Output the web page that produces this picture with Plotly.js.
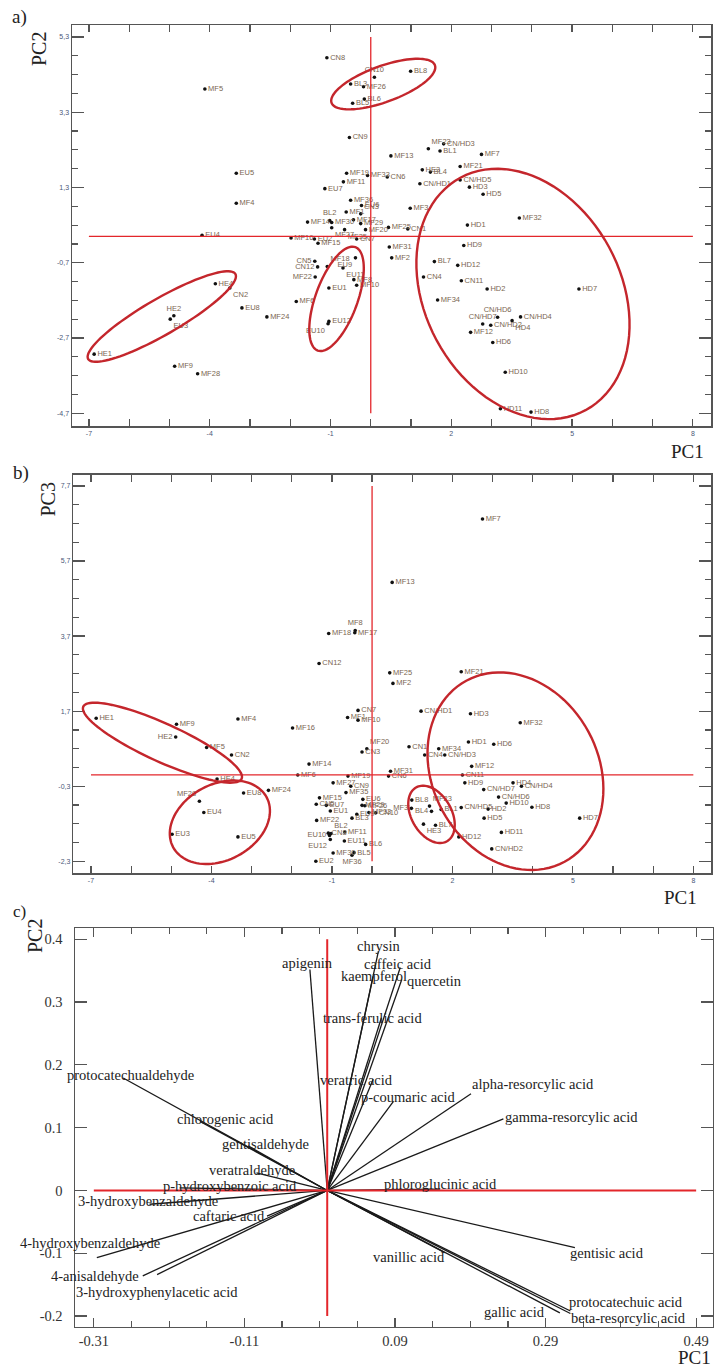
<!DOCTYPE html>
<html>
<head>
<meta charset="utf-8">
<script src="https://cdn.plot.ly/plotly-3.0.1.min.js"></script>
<style>
  html, body { margin: 0; padding: 0; background: #fff; }
  #chart { width: 714px; height: 1368px; }
</style>
</head>
<body>
<div id="chart"></div>
<script>
// ---- Sample scores (PCA) ----
const samples = [
  "CN1","CN2","CN3","CN4","CN5","CN6","CN7","CN8","CN9","CN10","CN11","CN12",
  "CN/HD1","CN/HD2","CN/HD3","CN/HD4","CN/HD5","CN/HD6","CN/HD7",
  "HD1","HD2","HD3","HD4","HD5","HD6","HD7","HD8","HD9","HD10","HD11","HD12",
  "HE1","HE2","HE3","HE4",
  "EU1","EU2","EU3","EU4","EU5","EU6","EU7","EU8","EU9","EU10","EU11","EU12",
  "BL1","BL2","BL3","BL4","BL5","BL6","BL7","BL8",
  "MF1","MF2","MF3","MF4","MF5","MF6","MF7","MF8","MF9","MF10","MF11","MF12",
  "MF13","MF14","MF15","MF16","MF17","MF18","MF19","MF20","MF21","MF22","MF23","MF24",
  "MF25","MF26","MF27","MF28","MF29","MF30","MF31","MF32","MF33","MF34","MF35","MF36"
];
const pc1 = [
  0.92,-3.50,-0.25,1.31,-1.39,0.41,-0.35,-1.09,-0.53,0.09,2.25,-1.32,
  1.22,2.98,1.81,3.72,2.22,3.15,2.78,
  2.40,2.89,2.45,3.51,2.79,3.03,5.17,3.98,2.31,3.34,3.22,2.16,
  -6.87,-4.89,1.28,-3.86,
  -1.04,-1.40,-4.98,-4.19,-3.34,-0.23,-1.14,-3.20,-0.38,-1.06,-0.69,-1.04,
  1.72,-1.02,-0.50,1.48,-0.45,-0.16,1.58,0.99,
  -0.61,0.52,0.98,-3.34,-4.12,-1.85,2.75,-0.42,-4.87,-0.35,-0.68,2.48,
  0.50,-1.57,-1.31,-1.98,-0.43,-1.08,-0.60,-0.13,2.22,-1.38,1.43,-2.58,
  0.44,-0.18,-0.97,-4.30,-0.25,-0.97,0.46,3.69,-0.08,1.66,-0.65,-0.50
];
const pc2 = [
  0.20,-1.37,0.60,-1.08,-0.66,1.58,-0.07,4.75,2.63,4.23,-1.18,-0.81,
  1.40,-2.36,2.46,-2.14,1.50,-2.15,-2.33,
  0.30,-1.40,1.31,-2.24,1.12,-2.82,-1.40,-4.67,-0.24,-3.61,-4.58,-0.77,
  -3.13,-2.11,1.77,-1.26,
  -1.37,-0.07,-2.20,0.03,1.68,0.82,1.27,-1.90,-0.57,-2.32,-0.84,-2.26,
  2.27,0.42,4.05,1.71,3.54,3.65,-0.67,4.39,
  0.65,-0.57,0.75,0.88,3.92,-1.73,2.18,-1.15,-3.45,-1.30,1.45,-2.55,
  2.14,0.38,-0.18,-0.04,0.44,-0.80,1.68,0.18,1.86,-1.08,2.33,-2.14,
  0.24,3.98,0.23,-3.65,0.34,0.37,-0.28,0.49,1.62,-1.69,0.18,0.96
];
const pc3 = [
  0.75,0.53,0.61,0.53,-0.78,-0.03,1.72,-1.55,-0.30,-1.01,0.00,2.97,
  1.70,-1.97,0.53,-0.30,-0.87,-0.59,-0.39,
  0.88,-0.91,1.63,-0.21,-1.15,0.82,-1.15,-0.86,-0.21,-0.75,-1.53,-1.65,
  1.51,1.01,-1.31,-0.11,
  -0.96,-2.30,-1.58,-1.00,-1.65,-0.65,-0.81,-0.48,-1.05,-1.61,-1.76,-1.72,
  -0.92,-1.56,-1.15,-0.97,-2.07,-1.85,-1.34,-0.67,
  1.53,2.44,-0.89,1.49,0.73,0.00,6.82,3.85,1.35,1.46,-1.52,0.23,
  5.13,0.29,-0.61,1.25,3.79,3.77,-0.03,0.70,2.75,-1.21,-0.83,-0.41,
  2.72,-0.82,-0.21,-0.70,-0.81,-2.08,0.10,1.39,-1.00,0.70,-0.47,-2.14
];

// ---- Variable loadings (PC1 / PC2) ----
const compounds = [
  "apigenin","chrysin","caffeic acid","kaempferol","quercetin","trans-ferulic acid",
  "veratric acid","p-coumaric acid","alpha-resorcylic acid","gamma-resorcylic acid",
  "phloroglucinic acid","gentisic acid","vanillic acid","gallic acid",
  "protocatechuic acid","beta-resorcylic acid","protocatechualdehyde","chlorogenic acid",
  "gentisaldehyde","veratraldehyde","p-hydroxybenzoic acid","3-hydroxybenzaldehyde",
  "caftaric acid","4-hydroxybenzaldehyde","4-anisaldehyde","3-hydroxyphenylacetic acid"
];
const loadPC1 = [
  -0.023,0.068,0.097,0.061,0.099,0.072,
  0.061,0.088,0.191,0.234,
  0.150,0.329,0.156,0.309,
  0.323,0.323,-0.271,-0.169,
  -0.105,-0.094,-0.196,-0.236,
  -0.080,-0.306,-0.245,-0.226
];
const loadPC2 = [
  0.352,0.381,0.355,0.341,0.336,0.275,
  0.177,0.142,0.154,0.114,
  0.002,-0.091,-0.099,-0.195,
  -0.192,-0.196,0.179,0.110,
  0.071,0.028,0.004,-0.022,
  -0.041,-0.107,-0.136,-0.134
];

// ---- Page geometry (pixels) ----
const W = 714, H = 1368;
const fx = p => p / W;
const fy = p => 1 - p / H;

const panels = {
  a: { x0: 72, x1: 711, y0: 25, y1: 426, xr: [-7.42, 8.45], yr: [-5.04, 5.62] },
  b: { x0: 73.3, x1: 711, y0: 474.7, y1: 873.3, xr: [-7.44, 8.44], yr: [-2.62, 8.0] },
  c: { x0: 75, x1: 712.7, y0: 928.3, y1: 1326.7, xr: [-0.335, 0.512], yr: [-0.217, 0.4175] }
};

// Label placement for crowded score labels
const posA = {
  "HE2":"top center","BL2":"top center","CN5":"middle left","CN12":"middle left",
  "MF22":"middle left","MF18":"top right","EU9":"bottom left","EU10":"bottom left",
  "EU11":"bottom right","CN/HD6":"top center","CN/HD7":"top center","HD4":"bottom right",
  "MF23":"top right","CN10":"top center","EU3":"bottom right","MF27":"bottom right",
  "MF35":"bottom right","CN2":"bottom right","CN3":"top right"
};
const posB = {
  "HE2":"middle left","MF28":"top left","MF8":"top center","MF20":"top right",
  "MF3":"middle left","BL4":"middle left","MF23":"top right","HE3":"bottom right",
  "EU10":"middle left","EU12":"bottom left","MF36":"bottom center","BL2":"top right"
};

// Group rings: centre in data units, semi-axes in px, rotation in screen degrees
const ringsA = [
  { cx: 0.31, cy: 4.05, a: 55, b: 18, rot: -20 },
  { cx: -5.19, cy: -2.13, a: 85, b: 18, rot: -30 },
  { cx: -0.85, cy: -1.66, a: 55, b: 21, rot: -70 },
  { cx: 3.78, cy: -1.53, a: 132, b: 98, rot: 61.7 }
];
const ringsB = [
  { cx: -5.22, cy: 0.86, a: 87, b: 19, rot: 24.5 },
  { cx: -3.79, cy: -1.26, a: 53, b: 38, rot: -28 },
  { cx: 3.57, cy: 0.10, a: 103, b: 83, rot: 61.5 },
  { cx: 1.48, cy: -1.05, a: 31, b: 20, rot: 60 }
];

// Loading label anchors: [xanchor, xshift, yshift]
const loadLabel = {
  "apigenin":["center",-2,6],"chrysin":["center",0,5],"caffeic acid":["center",-2,4],
  "kaempferol":["center",1,0],"quercetin":["left",3,-2],"trans-ferulic acid":["center",-9,0],
  "veratric acid":["center",-17,-1],"p-coumaric acid":["center",15,4],
  "alpha-resorcylic acid":["left",-1,10],"gamma-resorcylic acid":["left",0,2],
  "phloroglucinic acid":["center",0,5],"gentisic acid":["left",-7,-5],
  "vanillic acid":["right",2,-4],"gallic acid":["right",-13,1],
  "protocatechuic acid":["left",-3,9],"beta-resorcylic acid":["left",-1,-4],
  "protocatechualdehyde":["center",7,3],"chlorogenic acid":["center",26,2],
  "gentisaldehyde":["center",17,2],"veratraldehyde":["center",-4,3],
  "p-hydroxybenzoic acid":["center",50,2],"3-hydroxybenzaldehyde":["center",-2,3],
  "caftaric acid":["right",0,0],"4-hydroxybenzaldehyde":["center",-7,15],
  "4-anisaldehyde":["right",-2,0],"3-hydroxyphenylacetic acid":["center",0,-17]
};

const FRAME = '#555';
const RED_AXIS = '#e3262b';
const RING = '#c4262c';
const LABEL = '#7a6651';
const SMALLTICK = { family: 'Liberation Sans, Arial, sans-serif', size: 7, color: '#4a5878' };
const SERIF = 'Liberation Serif, Times New Roman, serif';

function ringPath(r, p) {
  const sx = (p.x1 - p.x0) / (p.xr[1] - p.xr[0]);
  const sy = (p.y1 - p.y0) / (p.yr[1] - p.yr[0]);
  const th = r.rot * Math.PI / 180;
  const pts = [];
  for (let k = 0; k <= 96; k++) {
    const t = 2 * Math.PI * k / 96;
    const dx = r.a * Math.cos(t) * Math.cos(th) - r.b * Math.sin(t) * Math.sin(th);
    const dy = r.a * Math.cos(t) * Math.sin(th) + r.b * Math.sin(t) * Math.cos(th);
    pts.push((r.cx + dx / sx).toFixed(4) + ',' + (r.cy - dy / sy).toFixed(4));
  }
  return 'M' + pts.join(' L') + ' Z';
}

function frame(p, isX, extra) {
  const base = {
    domain: isX ? [fx(p.x0), fx(p.x1)] : [fy(p.y1), fy(p.y0)],
    range: isX ? p.xr : p.yr,
    showline: true, linecolor: FRAME, linewidth: 1.5, mirror: 'allticks',
    ticks: 'inside', tickcolor: FRAME, tickwidth: 1.2,
    zeroline: false, showgrid: false, fixedrange: true,
    tickmode: 'array'
  };
  return Object.assign(base, extra);
}

const comma = v => String(v).replace('.', ',');

const xTicksAB = [-7, -4, -1, 2, 5, 8];
const yTicksA = [-4.7, -2.7, -0.7, 1.3, 3.3, 5.3];
const yTicksB = [-2.3, -0.3, 1.7, 3.7, 5.7, 7.7];
const xTicksC = [-0.31, -0.11, 0.09, 0.29, 0.49];
const yTicksC = [-0.2, -0.1, 0, 0.1, 0.2, 0.3, 0.4];

const layout = {
  width: W, height: H,
  margin: { l: 0, r: 0, t: 0, b: 0 },
  paper_bgcolor: '#fff', plot_bgcolor: '#fff',
  showlegend: false,
  xaxis: frame(panels.a, true, {
    anchor: 'y', tickvals: xTicksAB, ticktext: xTicksAB.map(comma), ticklen: 7, tickfont: SMALLTICK,
    minor: { tick0: -7, dtick: 1, ticks: 'inside', ticklen: 7, tickcolor: FRAME, tickwidth: 1.2 }
  }),
  yaxis: frame(panels.a, false, {
    anchor: 'x', tickvals: yTicksA, ticktext: yTicksA.map(comma), ticklen: 12, tickfont: SMALLTICK,
    minor: { tick0: -4.7, dtick: 0.5, ticks: 'inside', ticklen: 6, tickcolor: FRAME, tickwidth: 1.2 }
  }),
  xaxis2: frame(panels.b, true, {
    anchor: 'y2', tickvals: xTicksAB, ticktext: xTicksAB.map(comma), ticklen: 7, tickfont: SMALLTICK,
    minor: { tick0: -7, dtick: 1, ticks: 'inside', ticklen: 7, tickcolor: FRAME, tickwidth: 1.2 }
  }),
  yaxis2: frame(panels.b, false, {
    anchor: 'x2', tickvals: yTicksB, ticktext: yTicksB.map(comma), ticklen: 12, tickfont: SMALLTICK,
    minor: { tick0: -2.3, dtick: 0.5, ticks: 'inside', ticklen: 6, tickcolor: FRAME, tickwidth: 1.2 }
  }),
  xaxis3: frame(panels.c, true, {
    anchor: 'y3', tickvals: xTicksC, ticktext: xTicksC.map(String), ticklen: 9,
    tickfont: { family: SERIF, size: 14.5, color: '#333' },
    minor: { tick0: -0.31, dtick: 0.05, ticks: 'inside', ticklen: 6, tickcolor: FRAME, tickwidth: 1.2 }
  }),
  yaxis3: frame(panels.c, false, {
    anchor: 'x3', tickvals: yTicksC, ticktext: yTicksC.map(String), ticklen: 12,
    tickfont: { family: SERIF, size: 14.5, color: '#333' }, ticklabelstandoff: 8
  }),
  shapes: [],
  annotations: []
};

// Red reference axes through the origin
function cross(xref, yref, xs, ys, w) {
  layout.shapes.push({ type: 'line', xref, yref, x0: xs[0], x1: xs[1], y0: 0, y1: 0, line: { color: RED_AXIS, width: w } });
  layout.shapes.push({ type: 'line', xref, yref, x0: 0, x1: 0, y0: ys[0], y1: ys[1], line: { color: RED_AXIS, width: w } });
}
cross('x', 'y', [-7, 8], [-4.7, 5.3], 1.3);
cross('x2', 'y2', [-7, 8], [-2.3, 7.7], 1.3);
cross('x3', 'y3', [-0.31, 0.49], [-0.2, 0.4], 2);

ringsA.forEach(r => layout.shapes.push({ type: 'path', xref: 'x', yref: 'y', path: ringPath(r, panels.a), line: { color: RING, width: 2.4 } }));
ringsB.forEach(r => layout.shapes.push({ type: 'path', xref: 'x2', yref: 'y2', path: ringPath(r, panels.b), line: { color: RING, width: 2.4 } }));

// Panel letters and axis names
function note(text, px, py, size, angle) {
  layout.annotations.push({
    xref: 'paper', yref: 'paper', x: fx(px), y: fy(py), text, showarrow: false,
    xanchor: 'center', yanchor: 'middle', textangle: angle || 0,
    font: { family: SERIF, size, color: '#222' }
  });
}
note('a)', 19, 17, 19);
note('PC2', 38.5, 49.5, 20, -90);
note('PC1', 687.5, 451.5, 19);
note('b)', 21, 473, 19);
note('PC3', 47.5, 500, 20, -90);
note('PC1', 680, 897.5, 19);
note('c)', 19.5, 911, 17);
note('PC2', 35, 936, 20, -90);
note('PC1', 694, 1357.5, 19);

// Loading labels
compounds.forEach((c, i) => {
  const [xa, dx, dy] = loadLabel[c];
  layout.annotations.push({
    xref: 'x3', yref: 'y3', x: loadPC1[i], y: loadPC2[i], text: c, showarrow: false,
    xanchor: xa, yanchor: 'middle', xshift: dx, yshift: dy,
    font: { family: SERIF, size: 14.5, color: '#222' }
  });
});

// Traces
const pointFont = { family: 'Liberation Sans, Arial, sans-serif', size: 7.5, color: LABEL };
const traces = [
  {
    type: 'scatter', mode: 'markers+text', xaxis: 'x', yaxis: 'y',
    x: pc1, y: pc2, text: samples,
    textposition: samples.map(s => posA[s] || 'middle right'),
    textfont: pointFont, cliponaxis: false,
    marker: { color: '#111', size: 3.6 }, hoverinfo: 'text'
  },
  {
    type: 'scatter', mode: 'markers+text', xaxis: 'x2', yaxis: 'y2',
    x: pc1, y: pc3, text: samples,
    textposition: samples.map(s => posB[s] || 'middle right'),
    textfont: pointFont, cliponaxis: false,
    marker: { color: '#111', size: 3.6 }, hoverinfo: 'text'
  }
];

// Loading vectors from the origin
const vx = [], vy = [];
compounds.forEach((c, i) => { vx.push(0, loadPC1[i], null); vy.push(0, loadPC2[i], null); });
traces.push({
  type: 'scatter', mode: 'lines', xaxis: 'x3', yaxis: 'y3',
  x: vx, y: vy, line: { color: '#1a1a1a', width: 1.3 }, hoverinfo: 'skip', cliponaxis: false
});

Plotly.newPlot('chart', traces, layout, { displayModeBar: false, staticPlot: true });
</script>
</body>
</html>
